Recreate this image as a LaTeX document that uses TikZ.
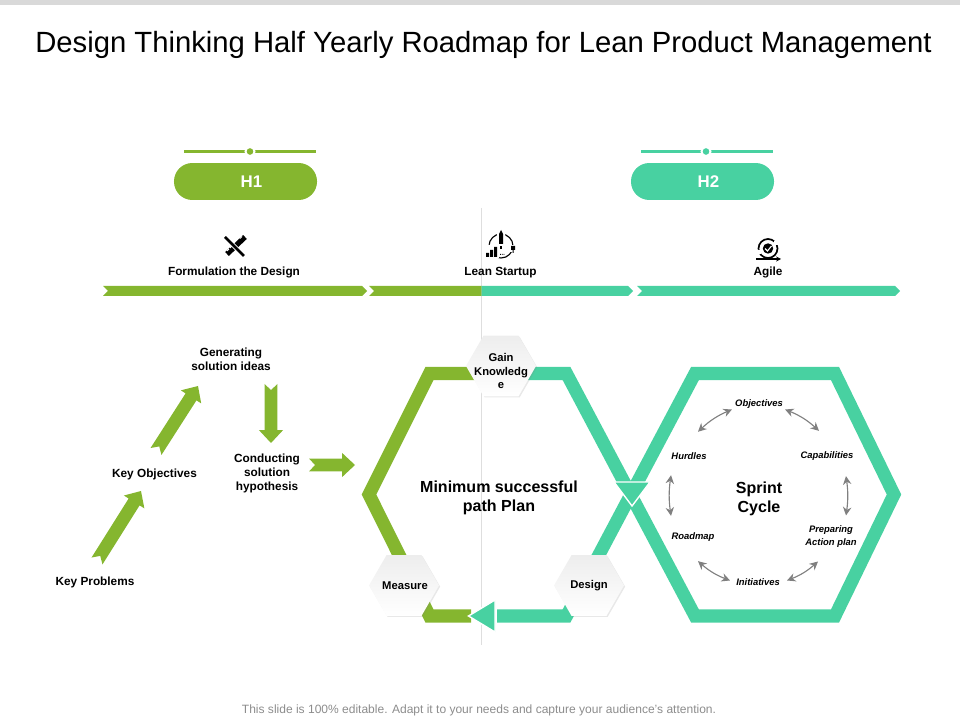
\documentclass[tikz,border=0pt]{standalone}
\usepackage{fontspec}
\setmainfont{Liberation Sans}
\usetikzlibrary{arrows.meta,calc,shapes.geometric,shadows}
\definecolor{leaf}{HTML}{85B62F}
\definecolor{mint}{HTML}{48D1A1}
\definecolor{rulegrey}{HTML}{DEDEDE}
\definecolor{arrowgrey}{HTML}{808080}
% filled arrow with notched tail, from coordinate #1 to coordinate #2
\newcommand{\blockarrow}[2]{%
	\coordinate (sh) at ($(#2)!9.2pt!(#1)$);
	\coordinate (nt) at ($(#1)!4.3pt!(#2)$);
	\fill[leaf] (nt) -- ($(#1)!4.6pt!90:(#2)$) -- ($(sh)!4.6pt!-90:(#1)$) -- ($(sh)!8.6pt!-90:(#1)$)
		-- (#2) -- ($(sh)!8.6pt!90:(#1)$) -- ($(sh)!4.6pt!90:(#1)$) -- ($(#1)!4.6pt!-90:(#2)$) -- cycle;
}
\begin{document}
\begin{tikzpicture}[x=0.025cm,y=-0.025cm]
	\tikzset{lbl/.style={font=\fontsize{8.4}{10}\selectfont\bfseries, align=center, inner sep=0pt},
		cyc/.style={font=\fontsize{6.7}{9}\selectfont\bfseries\itshape, align=center, inner sep=0pt},
		big/.style={font=\fontsize{11.4}{13.6}\selectfont\bfseries, align=center, inner sep=0pt},
		pill/.style={minimum width=101.7pt, minimum height=26.3pt, rounded corners=13pt, inner sep=0pt,
			text=white, font=\fontsize{12}{14}\selectfont\bfseries},
		hexa/.style={regular polygon, regular polygon sides=6, minimum size=49.8pt,
			inner sep=0pt, top color=black!7, bottom color=white,
			drop shadow={shadow xshift=0.8pt, shadow yshift=-0.8pt, opacity=0.18}},
		hexlbl/.style={font=\fontsize{8}{9.3}\selectfont\bfseries, align=center, inner sep=0pt},
		loopline/.style={line width=9.25pt, line join=miter},
		gap/.style={draw=white, line width=1pt, line join=miter},
		cycarrow/.style={arrowgrey, line width=0.8pt, {Stealth[length=6pt,width=6pt]}-{Stealth[length=6pt,width=6pt]}}}
	\useasboundingbox (0,0) rectangle (960,720);
	\fill[black!15] (0,0) rectangle (960,5);
	\node[inner sep=0pt, font=\fontsize{20.8}{24}\selectfont] (heading) at (483.5,45) {Design Thinking Half Yearly Roadmap for Lean Product Management};
	\draw[rulegrey, line width=0.8pt] (481.5,208) -- (481.5,645);

	% half year tags
	\node[pill, fill=leaf] (hone) at (245.5,181.5) {\hspace{8.5pt}H1};
	\node[pill, fill=mint] (htwo) at (702.5,181.5) {\hspace{8.5pt}H2};
	\draw[leaf, line width=2.2pt] (184,151.5) -- (316,151.5);
	\draw[mint, line width=2.2pt] (641,151.5) -- (773,151.5);
	\filldraw[fill=leaf, draw=white, line width=1.4pt] (250,151.5) circle (3.2pt);
	\filldraw[fill=mint, draw=white, line width=1.4pt] (706,151.5) circle (3.2pt);

	% chevron bar
	\fill[leaf] (103,286) -- (362,286) -- (367,291) -- (362,296) -- (103,296) -- (108,291) -- cycle;
	\fill[leaf] (369,286) -- (481.5,286) -- (481.5,296) -- (369,296) -- (374,291) -- cycle;
	\fill[mint] (481.5,286) -- (628,286) -- (633,291) -- (628,296) -- (481.5,296) -- cycle;
	\fill[mint] (637,286) -- (895,286) -- (900,291) -- (895,296) -- (637,296) -- (642,291) -- cycle;

	% icons
	\draw[line width=3.8pt] (245,237) -- (227,254);
	\draw[white, line width=0.6pt] (242,236.5) -- (240,238.5) (238,238.5) -- (236,240.5) (232,246) -- (230,248) (229,249) -- (227,251);
	\draw[white, line width=3.2pt] (227,239) -- (243,255);
	\draw[line width=2pt] (225,237) -- (244,256);
	\draw[line width=0.8pt] (501,246) circle (12);
	\fill[white] (497,232) rectangle (505,250) (485,245) rectangle (499,258);
	\fill (499,234) -- (501,230) -- (503,234) -- (503,244) -- (499,244) -- cycle;
	\fill (500,246) rectangle (502,249.5);
	\fill (486,253) rectangle (489,257) (490,250) rectangle (493,257) (494,247) rectangle (497,257);
	\fill (500,254) rectangle (500.8,254.8) (501.8,254) rectangle (502.6,254.8) (503.6,254) rectangle (504.4,254.8);
	\fill[white] (510,245) rectangle (516,252);
	\fill (511,246) rectangle (515,250) (512.5,250) rectangle (513.5,253);
	\draw[line width=1.2pt] (768,248.5) circle (9.5);
	\fill[white] (756,250) rectangle (761,254) (774,241) rectangle (779,245);
	\fill (768,248.5) circle (5.2);
	\draw[white, line width=0.8pt] (765,248.5) -- (767.5,251) -- (771.5,246);
	\draw[line width=1.1pt, -{Stealth[length=3.5pt,width=3.5pt]}] (756,259) -- (781,259);

	\node[lbl] (form) at (234,272.5) {Formulation the Design};
	\node[lbl] (lean) at (500.5,272.5) {Lean Startup};
	\node[lbl] (agile) at (768,272.5) {Agile};

	% steps on the left
	\node[lbl] (kprob) at (95,582.5) {Key Problems};
	\node[lbl] (kobj) at (154.5,474.5) {Key Objectives};
	\node[lbl] (gen) at (231,359.5) {Generating\\solution ideas};
	\node[lbl] (cond) at (267,473.5) {Conducting\\solution\\hypothesis};
	\coordinate (aa) at (97,561);
	\coordinate (ab) at (141,491);
	\coordinate (ba) at (156,451.5);
	\coordinate (bb) at (198,386);
	\coordinate (ca) at (271,384);
	\coordinate (cb) at (271,443);
	\coordinate (da) at (309,465);
	\coordinate (db) at (355,465);
	\blockarrow{aa}{ab}
	\blockarrow{ba}{bb}
	\blockarrow{ca}{cb}
	\blockarrow{da}{db}

	% figure of eight
	\draw[leaf, loopline] (482,373.5) -- (429.5,373.5) -- (369,494.5) -- (429.5,616) -- (471,616);
	\draw[mint, loopline] (497,616) -- (566.5,616) -- (695,373.5) -- (835,373.5) -- (894,494.5) -- (835,616)
		-- (695,616) -- (566.5,373.5) -- (510,373.5);
	\filldraw[fill=mint, gap] (614,482) -- (650,482) -- (632,506) -- cycle;
	\filldraw[fill=mint, gap] (495,600) -- (495,632) -- (468.5,616) -- cycle;

	\node[hexa] (gain) at (501,366) {};
	\node[hexa] (meas) at (404,585.5) {};
	\node[hexa] (desg) at (589,585.5) {};
	\node[hexlbl] (gaintxt) at (501,371) {Gain\\Knowledg\\e};
	\node[hexlbl] (meastxt) at (405,585.5) {Measure};
	\node[hexlbl] (desgtxt) at (589,585.5) {Design};
	\node[big] (minp) at (499,497.5) {Minimum successful\\path Plan};
	\node[big] (sprint) at (759,498.5) {Sprint\\Cycle};

	% sprint cycle
	\node[cyc] (obj) at (759,404.5) {Objectives};
	\node[cyc] (hurd) at (689,456.5) {Hurdles};
	\node[cyc] (capa) at (827,456.5) {Capabilities};
	\node[cyc] (prep) at (831,536.5) {Preparing\\Action plan};
	\node[cyc] (init) at (758,582.5) {Initiatives};
	\node[cyc] (road) at (693,537.5) {Roadmap};
	\draw[cycarrow] ($(obj.west)+(-3,5)$) to[bend right=10] ($(hurd.north)+(9,-21)$);
	\draw[cycarrow] ($(obj.east)+(2,5)$) to[bend left=10] ($(capa.north)+(-8,-21)$);
	\draw[cycarrow] ($(capa.south)+(19,15)$) to[bend left=8] ($(prep.north)+(15,-10)$);
	\draw[cycarrow] ($(prep.south)+(-13,14)$) to[bend left=10] ($(init.east)+(7,-2)$);
	\draw[cycarrow] ($(init.west)+(-6,-2)$) to[bend left=10] ($(road.south)+(5,19)$);
	\draw[cycarrow] ($(road.north)+(-22,-17)$) to[bend left=8] ($(hurd.south)+(-18,15)$);

	\node[inner sep=0pt, text=black!45, font=\fontsize{8.55}{10}\selectfont] (foot) at (479,710.5) {This slide is 100\% editable. Adapt it to your needs and capture your audience's attention.};
\end{tikzpicture}
\end{document}
